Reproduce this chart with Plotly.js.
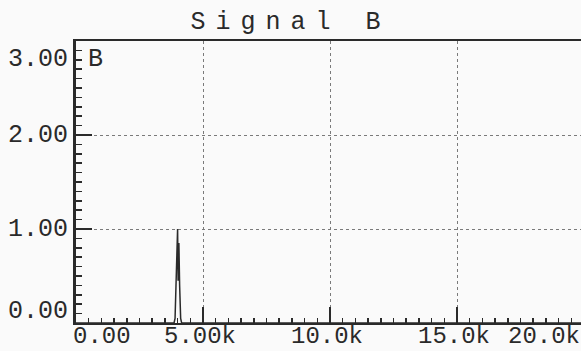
<!DOCTYPE html>
<html>
<head>
<meta charset="utf-8">
<script src="https://cdn.plot.ly/plotly-3.0.1.min.js"></script>
<style>
  html, body { margin: 0; padding: 0; background: #fafafa; }
  #chart { width: 581px; height: 351px; }
  .gtitle { letter-spacing: 10px; }
</style>
</head>
<body>
<div id="chart"></div>
<script>
// ---- data ----
const chartTitle = 'Signal B';
const channelLabel = 'B';
const freqHz = [0, 3860, 3900, 3940, 3980, 4000, 4020, 4050, 4080, 4120, 4160, 20000];
const amplitude = [0, 0, 0.05, 0.45, 0.8, 1.0, 0.45, 0.85, 0.4, 0.05, 0, 0];
const xTickVals = [0, 5000, 10000, 15000, 20000];
const xTickText = ['0.00', '5.00k', '10.0k', '15.0k', '20.0k'];
const yTickVals = [0, 1, 2, 3];
const yTickText = ['0.00', '1.00', '2.00', '3.00'];

// ---- style ----
const FONT = 'Liberation Mono, DejaVu Sans Mono, monospace';
const INK = '#2a2a2a';
const xRange = [0, 19882];
const yRange = [0, 3];
const PLOT_H = 351 - 41 - 28;

const annotations = [];
xTickVals.forEach((v, i) => {
  const last = i === xTickVals.length - 1;
  annotations.push({
    x: Math.min(v, xRange[1]), xref: 'x',
    y: -27.5 / PLOT_H, yref: 'paper',
    text: xTickText[i],
    showarrow: false,
    borderpad: 0,
    xanchor: i === 0 ? 'left' : (last ? 'right' : 'center'),
    xshift: i === 0 ? -4 : (last ? 0 : -3),
    yanchor: 'bottom',
    font: { family: FONT, size: 24, color: INK }
  });
});
yTickVals.forEach((v, i) => {
  const first = i === 0, last = i === yTickVals.length - 1;
  annotations.push({
    x: 0, xref: 'paper', xanchor: 'right', xshift: -6,
    y: v, yref: 'y',
    yanchor: first ? 'bottom' : (last ? 'top' : 'middle'),
    yshift: first ? -5 : (last ? -2 : 0),
    text: yTickText[i],
    showarrow: false,
    font: { family: FONT, size: 25, color: INK }
  });
});
annotations.push({
  x: 0, xref: 'paper', xanchor: 'left', xshift: 10,
  y: 1, yref: 'paper', yanchor: 'top', yshift: -2,
  text: channelLabel, showarrow: false,
  font: { family: FONT, size: 25, color: INK }
});

const trace = {
  x: freqHz, y: amplitude,
  type: 'scatter', mode: 'lines',
  line: { color: INK, width: 1.5 },
  cliponaxis: true,
  hoverinfo: 'skip'
};

const layout = {
  width: 581, height: 351,
  margin: { l: 76, r: 0, t: 41, b: 28, pad: 0 },
  paper_bgcolor: '#fafafa', plot_bgcolor: '#fafafa',
  showlegend: false,
  title: {
    text: chartTitle,
    font: { family: FONT, size: 25, color: INK },
    x: 0.5, xref: 'container', xanchor: 'center',
    y: 1 - 20 / 351, yref: 'container', yanchor: 'middle'
  },
  xaxis: {
    range: xRange, fixedrange: true,
    showline: true, linecolor: INK, linewidth: 2, mirror: true,
    showgrid: true, gridcolor: '#7a7a7a', griddash: 'dot', gridwidth: 1,
    zeroline: false,
    tickmode: 'linear', tick0: 0, dtick: 5000,
    ticks: 'inside', ticklen: 16, tickwidth: 2, tickcolor: INK,
    showticklabels: false,
    minor: { dtick: 500, tick0: 0, ticks: 'inside', ticklen: 5, tickwidth: 1.5, tickcolor: INK, showgrid: false }
  },
  yaxis: {
    range: yRange, fixedrange: true,
    showline: true, linecolor: INK, linewidth: 3, mirror: false,
    showgrid: true, gridcolor: '#7a7a7a', griddash: 'dot', gridwidth: 1,
    zeroline: false,
    tickmode: 'linear', tick0: 0, dtick: 1,
    ticks: 'inside', ticklen: 16, tickwidth: 2, tickcolor: INK,
    showticklabels: false,
    minor: { dtick: 0.1, tick0: 0, ticks: 'inside', ticklen: 6, tickwidth: 1.5, tickcolor: INK, showgrid: false }
  },
  annotations: annotations
};

Plotly.newPlot('chart', [trace], layout, { displayModeBar: false, staticPlot: true });
</script>
</body>
</html>
